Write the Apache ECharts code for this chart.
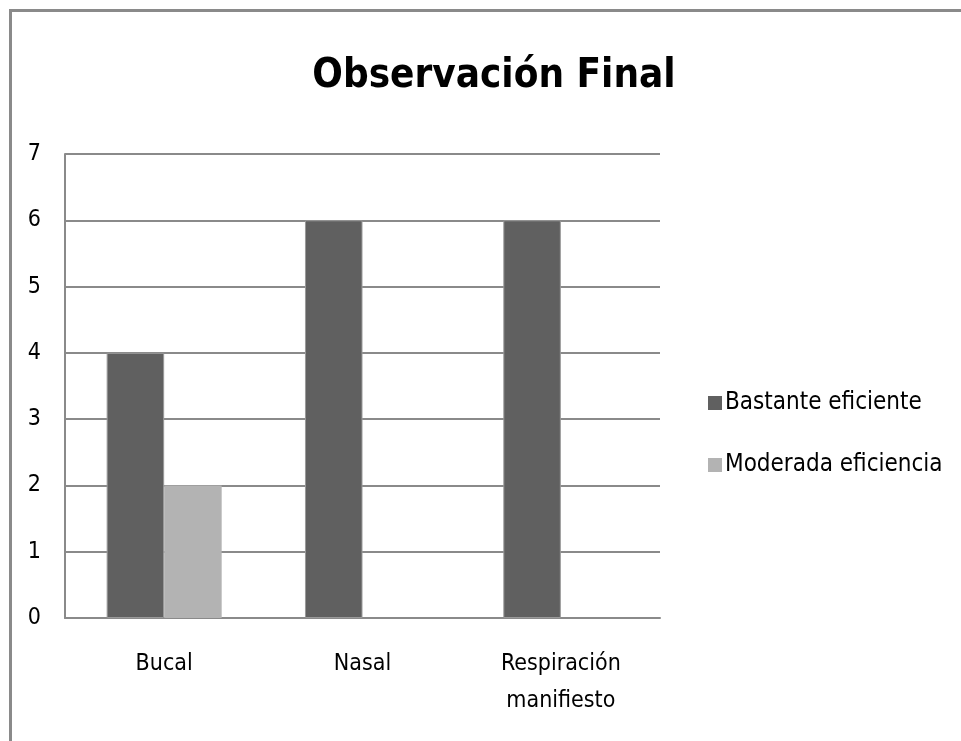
<!DOCTYPE html>
<html>
<head>
<meta charset="utf-8">
<script src="https://cdn.jsdelivr.net/npm/echarts@6/dist/echarts.min.js"></script>
<style>
  html, body { margin: 0; padding: 0; background: #fff; }
  #frame { position: absolute; left: 9px; top: 9px; width: 952px; height: 732px;
           border-left: 3px solid #8a8a8a; border-top: 3px solid #8a8a8a; box-sizing: border-box; }
  #main { position: absolute; left: 0; top: 0; width: 961px; height: 741px; }
</style>
</head>
<body>
<div id="frame"></div>
<div id="main"></div>
<script>
// datos del grafico
const categories = ['Bucal', 'Nasal', 'Respiración\nmanifiesto'];
const bastante = [4, 6, 6];
const moderada = [2, 0, 0];
const seriesNames = ['Bastante eficiente', 'Moderada eficiencia'];

const font = '"Liberation Sans Narrow", "DejaVu Sans Condensed", sans-serif';

const myChart = echarts.init(document.getElementById('main'), null, { renderer: 'canvas' });

const option = {
  backgroundColor: 'transparent',
  animation: false,
  title: {
    text: 'Observación Final',
    left: 489,
    textAlign: 'center',
    top: 52,
    textStyle: { fontFamily: font, fontSize: 40, fontWeight: 'bold', color: '#000' }
  },
  legend: {
    orient: 'vertical',
    left: 703,
    top: 386,
    itemGap: 38,
    itemWidth: 14,
    itemHeight: 14,
    icon: 'rect',
    data: seriesNames,
    itemStyle: { borderWidth: 0 },
    textStyle: { fontFamily: font, fontSize: 24, color: '#000', padding: [0, 0, 0, -2] }
  },
  grid: { left: 65, right: 301, top: 154, bottom: 123 },
  xAxis: {
    type: 'category',
    data: categories,
    axisTick: { show: false },
    axisLine: { lineStyle: { color: '#8a8a8a', width: 2 } },
    axisLabel: { fontFamily: font, fontSize: 23, color: '#000', margin: 28, lineHeight: 37, interval: 0 }
  },
  yAxis: {
    type: 'value',
    min: 0,
    max: 7,
    interval: 1,
    axisLine: { show: true, lineStyle: { color: '#8a8a8a', width: 2 } },
    axisTick: { show: false },
    axisLabel: { fontFamily: font, fontSize: 23, color: '#000', margin: 24 },
    splitLine: { lineStyle: { color: '#8a8a8a', width: 2 } }
  },
  series: [
    {
      name: seriesNames[0],
      type: 'bar',
      data: bastante,
      barGap: 0,
      barCategoryGap: '42%',
      itemStyle: { color: '#606060', borderColor: '#9a9a9a', borderWidth: 1 }
    },
    {
      name: seriesNames[1],
      type: 'bar',
      data: moderada,
      itemStyle: { color: '#b3b3b3' }
    }
  ]
};

myChart.setOption(option);
window.onresize = myChart.resize;
</script>
</body>
</html>
